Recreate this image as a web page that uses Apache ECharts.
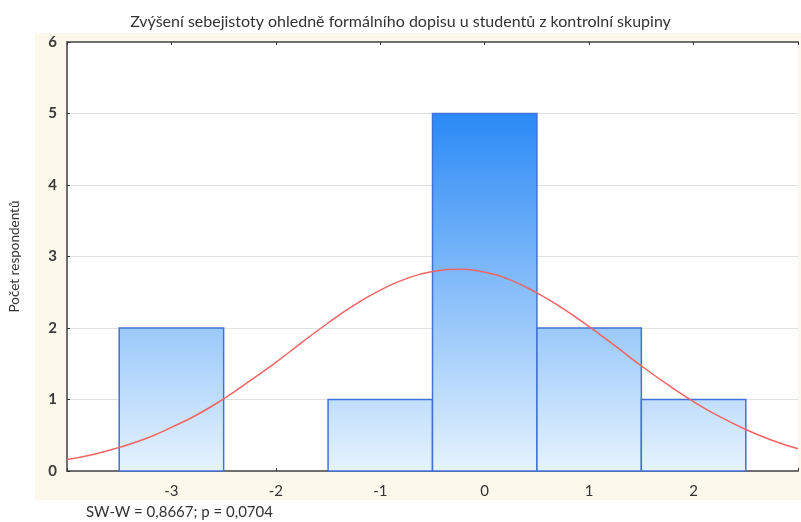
<!DOCTYPE html>
<html>
<head>
<meta charset="utf-8">
<script src="https://cdn.jsdelivr.net/npm/echarts@6/dist/echarts.min.js"></script>
<style>html,body{margin:0;padding:0;background:#fff;}#c{width:801px;height:522px;}</style>
</head>
<body>
<div id="c"></div>
<script>
const titleText = 'Zvýšení sebejistoty ohledně formálního dopisu u studentů z kontrolní skupiny';
const yAxisName = 'Počet respondentů';
const noteText = 'SW-W = 0,8667; p = 0,0704';
const xTickLabels = [-3, -2, -1, 0, 1, 2];
const binCenters = [-3, -2, -1, 0, 1, 2];
const binCounts = [2, 0, 1, 5, 2, 1];
const curveX = [-4, -3.75, -3.5, -3.25, -3, -2.75, -2.5, -2.25, -2, -1.75, -1.5, -1.25, -1, -0.75, -0.5, -0.25, 0, 0.25, 0.5, 0.75, 1, 1.25, 1.5, 1.75, 2, 2.25, 2.5, 2.75, 3];
const curveY = [0.16, 0.23, 0.33, 0.45, 0.61, 0.79, 1.01, 1.26, 1.52, 1.80, 2.07, 2.32, 2.53, 2.69, 2.79, 2.82, 2.78, 2.67, 2.49, 2.27, 2.02, 1.75, 1.47, 1.21, 0.97, 0.76, 0.58, 0.43, 0.31];

const chart = echarts.init(document.getElementById('c'), null, {renderer: 'canvas'});
const FONT = 'Lato';
const axisGray = '#6e6e6e';

chart.setOption({
  backgroundColor: '#ffffff',
  animation: false,
  graphic: [
    {type: 'rect', z: -10, silent: true, shape: {x: 35, y: 33, width: 766, height: 467}, style: {fill: '#fdf8ec'}},
    {type: 'text', left: 86, top: 505, style: {text: noteText, font: '15px ' + FONT, fill: '#333'}}
  ],
  title: {
    text: titleText, left: 'center', top: 9,
    textStyle: {fontFamily: FONT, fontSize: 16, fontWeight: 'normal', color: '#333'}
  },
  grid: {left: 64, right: 0, top: 42, bottom: 51, show: true, backgroundColor: '#ffffff', borderWidth: 0, containLabel: false},
  xAxis: [
    {
      type: 'value', min: -4, max: 3, interval: 1, position: 'bottom',
      axisLine: {show: true, onZero: false, lineStyle: {color: axisGray, width: 2}},
      axisTick: {show: true, inside: true, length: 3, lineStyle: {color: '#333'}},
      splitLine: {show: false},
      axisLabel: {
        margin: 13, color: '#333', fontFamily: FONT, fontSize: 15,
        formatter: v => xTickLabels.indexOf(v) >= 0 ? String(v) : ''
      }
    },
    {
      type: 'value', min: -4, max: 3, interval: 1, position: 'top',
      axisLine: {show: true, onZero: false, lineStyle: {color: axisGray, width: 2}},
      axisTick: {show: true, inside: true, length: 3, lineStyle: {color: '#333'}},
      splitLine: {show: false}, axisLabel: {show: false}
    }
  ],
  yAxis: {
    type: 'value', min: 0, max: 6, interval: 1,
    name: yAxisName, nameLocation: 'middle', nameGap: 45, nameRotate: 90,
    nameTextStyle: {fontFamily: FONT, fontSize: 13.5, color: '#333'},
    axisLine: {show: true, onZero: false, lineStyle: {color: axisGray, width: 2}},
    axisTick: {show: true, inside: true, length: 3, lineStyle: {color: '#333'}},
    splitLine: {show: true, lineStyle: {color: '#e2e2e2', width: 1}},
    axisLabel: {margin: 10, color: '#3a3a3a', fontFamily: FONT, fontSize: 15, fontWeight: 'bold'}
  },
  series: [
    {
      type: 'custom', xAxisIndex: 0, yAxisIndex: 0, z: 2,
      data: binCenters.map((c, i) => [c, binCounts[i]]),
      renderItem: function (params, api) {
        const x = api.value(0), v = api.value(1);
        if (!v) return null;
        const p0 = api.coord([x - 0.5, v]);
        const p1 = api.coord([x + 0.5, 0]);
        const gTop = api.coord([0, 5]);
        const gBot = api.coord([0, 0]);
        return {
          type: 'rect',
          shape: {x: p0[0], y: p0[1], width: p1[0] - p0[0], height: p1[1] - p0[1]},
          style: {
            fill: new echarts.graphic.LinearGradient(0, gTop[1], 0, gBot[1], [
              {offset: 0, color: '#2a8af5'}, {offset: 1, color: '#e6f3fe'}
            ], true),
            stroke: '#4171d9', lineWidth: 1.5
          }
        };
      }
    },
    {
      type: 'line', xAxisIndex: 0, yAxisIndex: 0, z: 3,
      data: curveX.map((x, i) => [x, curveY[i]]),
      smooth: true, showSymbol: false, symbol: 'none',
      lineStyle: {color: '#f06464', width: 1.5}
    }
  ]
});
</script>
</body>
</html>
